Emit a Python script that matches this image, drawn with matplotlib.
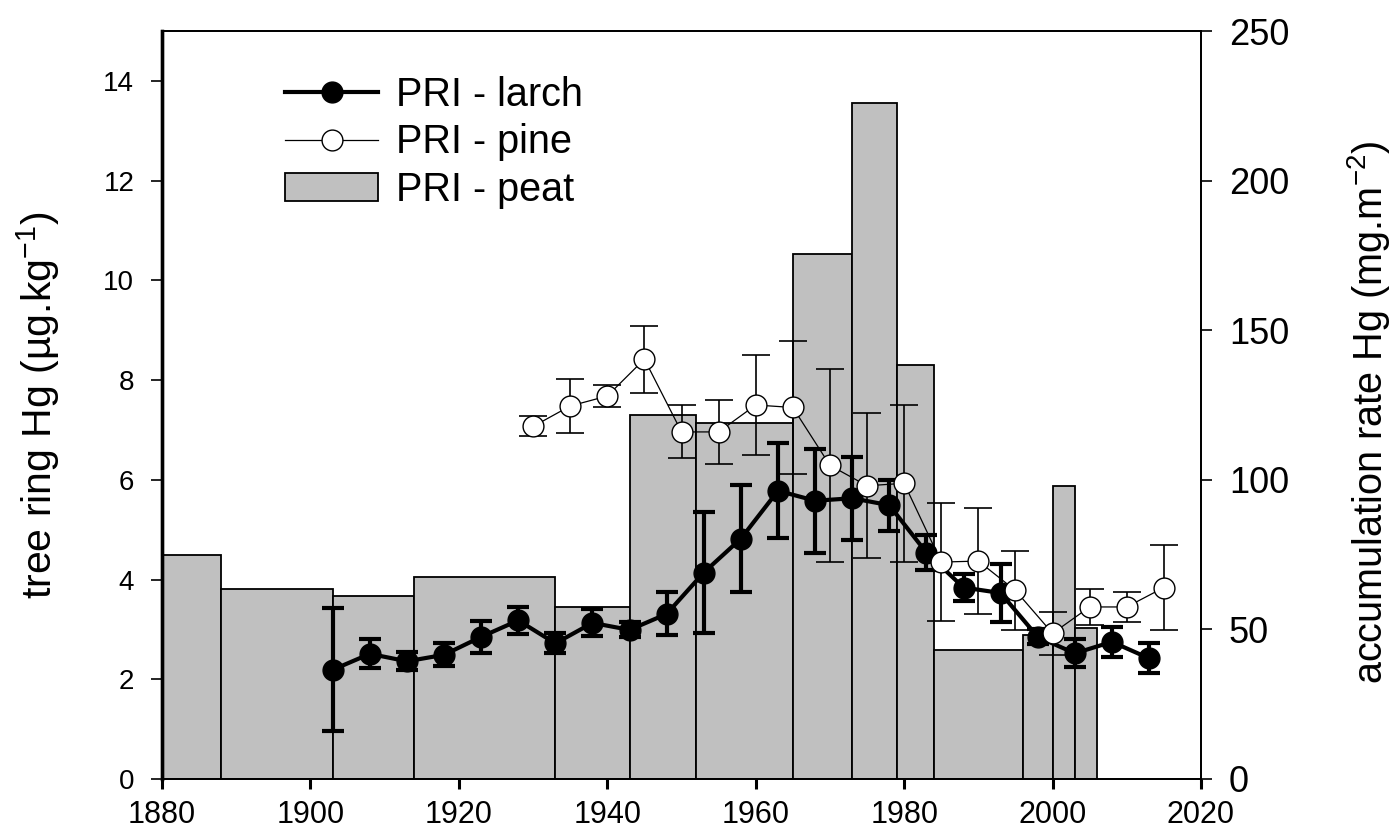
import numpy as np
import matplotlib.pyplot as plt

plt.rcParams['font.family'] = ['Liberation Sans', 'DejaVu Sans']
plt.rcParams['mathtext.fontset'] = 'custom'
plt.rcParams['mathtext.rm'] = 'Liberation Sans'
plt.rcParams['mathtext.it'] = 'Liberation Sans:italic'

# peat accumulation rate (right axis), bars with variable width
peat_start = [1880, 1888, 1903, 1914, 1933, 1943, 1952, 1965, 1973, 1979, 1984, 1996, 2000, 2003]
peat_end = [1888, 1903, 1914, 1933, 1943, 1952, 1965, 1973, 1979, 1984, 1996, 2000, 2003, 2006]
peat_rate = [75, 63.5, 61, 67.5, 57.5, 121.5, 119, 175.5, 226, 138.5, 43, 48, 98, 50.5]

# larch tree ring Hg
larch_year = [1903, 1908, 1913, 1918, 1923, 1928, 1933, 1938, 1943, 1948, 1953, 1958,
              1963, 1968, 1973, 1978, 1983, 1988, 1993, 1998, 2003, 2008, 2013]
larch_hg = [2.19, 2.51, 2.36, 2.49, 2.85, 3.18, 2.72, 3.13, 2.99, 3.31, 4.14, 4.82,
            5.78, 5.58, 5.63, 5.49, 4.54, 3.84, 3.73, 2.85, 2.52, 2.75, 2.42]
larch_err = [1.23, 0.29, 0.18, 0.23, 0.32, 0.27, 0.2, 0.27, 0.15, 0.43, 1.22, 1.07,
             0.95, 1.04, 0.83, 0.51, 0.35, 0.27, 0.58, 0.15, 0.28, 0.3, 0.3]

# pine tree ring Hg
pine_year = [1930, 1935, 1940, 1945, 1950, 1955, 1960, 1965, 1970, 1975, 1980,
             1985, 1990, 1995, 2000, 2005, 2010, 2015]
pine_hg = [7.07, 7.48, 7.68, 8.42, 6.96, 6.96, 7.5, 7.45, 6.29, 5.88, 5.93,
           4.35, 4.37, 3.78, 2.92, 3.45, 3.45, 3.84]
pine_err = [0.2, 0.55, 0.22, 0.67, 0.53, 0.64, 1.0, 1.33, 1.94, 1.45, 1.58,
            1.19, 1.06, 0.8, 0.43, 0.36, 0.3, 0.85]

fig = plt.figure(figsize=(13.91, 8.36), dpi=100)
ax = fig.add_axes([0.1165, 0.0682, 0.7469, 0.8947])
ax2 = ax.twinx()
ax.set_zorder(ax2.get_zorder() + 1)
ax.patch.set_visible(False)

widths = np.array(peat_end) - np.array(peat_start)
bars = ax2.bar(peat_start, peat_rate, width=widths, align='edge',
               color='#c0c0c0', edgecolor='black', linewidth=1.3, label='PRI - peat')

ax.errorbar(larch_year, larch_hg, yerr=larch_err, fmt='none', ecolor='black',
            elinewidth=3, capsize=8, capthick=3)
l1, = ax.plot(larch_year, larch_hg, '-o', color='black', lw=3, ms=15,
              mfc='black', mec='black', label='PRI - larch')
ax.errorbar(pine_year, pine_hg, yerr=pine_err, fmt='none', ecolor='black',
            elinewidth=1.2, capsize=10, capthick=1.2)
l2, = ax.plot(pine_year, pine_hg, '-o', color='black', lw=0.9, ms=15,
              mfc='white', mec='black', mew=1, label='PRI - pine')

ax.set_xlim(1880, 2020)
ax.set_ylim(0, 15)
ax2.set_ylim(0, 250)
ax.set_xticks(np.arange(1880, 2021, 20))
ax.set_yticks(np.arange(0, 15, 2))
ax2.set_yticks(np.arange(0, 251, 50))

ax.tick_params(axis='x', direction='out', length=7, width=2.2, labelsize=22, pad=8)
ax.tick_params(axis='y', direction='out', length=8, width=1.2, labelsize=20, pad=12)
ax2.tick_params(axis='y', direction='out', length=8, width=1.2, labelsize=26, pad=12)

for s in ['top', 'right', 'bottom']:
    ax.spines[s].set_linewidth(1.3)
    ax2.spines[s].set_linewidth(1.3)
ax.spines['left'].set_linewidth(2.4)
ax2.spines['left'].set_linewidth(2.4)

ax.set_ylabel('tree ring Hg (µg.kg$^{-1}$)', fontsize=29.5)
ax.yaxis.set_label_coords(-0.096, 0.5)
ax2.set_ylabel('accumulation rate Hg (mg.m$^{-2}$)', fontsize=28.5)
ax2.yaxis.set_label_coords(1.139, 0.49)

ax.legend([l1, l2, bars], ['PRI - larch', 'PRI - pine', 'PRI - peat'],
          loc='upper left', bbox_to_anchor=(0.118, 0.940), frameon=False,
          fontsize=28.5, handlelength=2.37, handletextpad=0.45, labelspacing=0.24,
          borderpad=0, borderaxespad=0)

plt.savefig('out.png', dpi=100)
